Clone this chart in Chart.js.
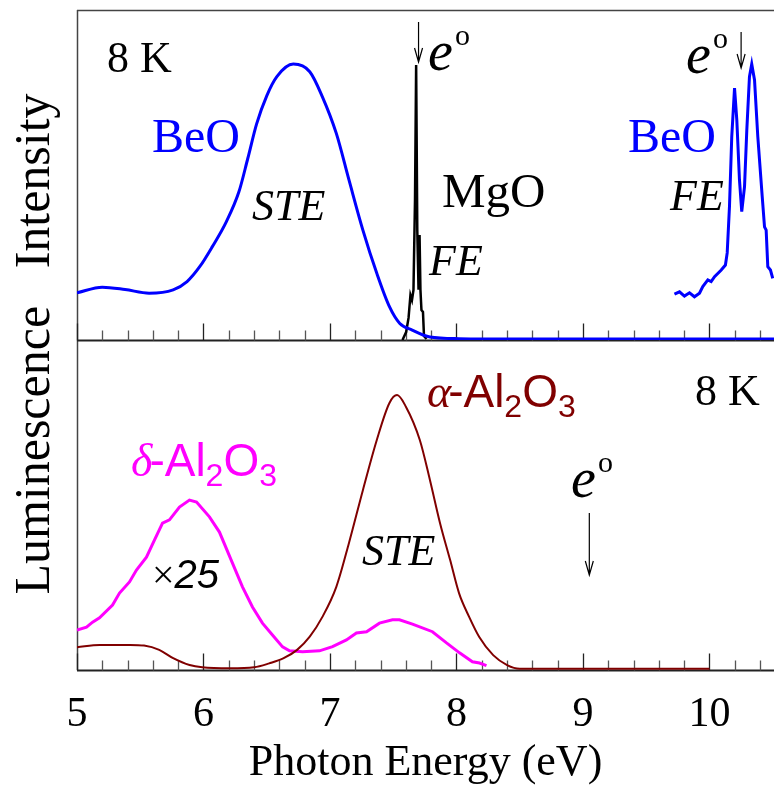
<!DOCTYPE html>
<html>
<head>
<meta charset="utf-8">
<script src="https://cdn.jsdelivr.net/npm/chart.js@4.4.1/dist/chart.umd.min.js"></script>
<style>
  html, body { margin: 0; padding: 0; background: #fff; }
  #wrap { width: 774px; height: 790px; }
</style>
</head>
<body>
<div id="wrap"><canvas id="spectra" width="774" height="790"></canvas></div>
<script>
// ── Data ─────────────────────────────────────────────────────────────────────
// photon energy (eV) / luminescence intensity (arb. units, 0..100 per panel)

// upper panel: BeO self-trapped exciton band
const BEO_STE_E = [5.00, 5.20, 5.38, 5.57, 5.76, 5.87, 5.97, 6.07, 6.18, 6.28, 6.35, 6.42,
                   6.50, 6.58, 6.71, 6.84, 6.94, 7.05, 7.15, 7.26, 7.37, 7.47, 7.55, 7.65,
                   7.79, 8.02, 8.50, 9.00, 9.50, 10.00, 10.51];
const BEO_STE_I = [14.3, 16.0, 15.3, 14.2, 15.2, 17.7, 22.2, 28.3, 35.8, 44.9, 55.0, 65.5,
                   74.0, 79.8, 83.6, 81.3, 73.7, 62.6, 48.5, 33.3, 20.2, 10.1, 5.1, 3.0,
                   0.9, 0.4, 0.3, 0.3, 0.3, 0.3, 0.3];

// upper panel: MgO free exciton lines
const MGO_E = [7.573, 7.602, 7.621, 7.636, 7.648, 7.660, 7.672, 7.681, 7.690, 7.700,
               7.708, 7.715, 7.723, 7.735, 7.743, 7.763];
const MGO_I = [0.0, 2.4, 6.7, 13.6, 12.1, 15.2, 42.4, 83.3, 33.3, 15.2,
               31.8, 15.2, 9.1, 8.5, 1.2, 0.3];

// upper panel: BeO free exciton doublet
const BEO_FE_E = [9.723, 9.763, 9.802, 9.842, 9.881, 9.921, 9.947, 9.987, 10.013, 10.040,
                  10.093, 10.126, 10.140, 10.158, 10.176, 10.198, 10.216, 10.237, 10.255,
                  10.277, 10.295, 10.316, 10.334, 10.356, 10.382, 10.417, 10.435, 10.448,
                  10.461, 10.482, 10.500];
const BEO_FE_I = [13.9, 14.6, 13.3, 14.3, 13.1, 14.2, 16.2, 18.2, 17.7, 19.2,
                  21.2, 22.7, 26.4, 40.4, 61.6, 76.3, 66.7, 48.5, 38.9,
                  46.5, 63.6, 79.8, 83.6, 78.8, 61.6, 43.4, 34.3, 33.3,
                  22.2, 21.2, 18.7];

// lower panel: alpha-Al2O3
const AL_ALPHA_E = [5.00, 5.18, 5.42, 5.53, 5.65, 5.76, 5.89, 5.99, 6.21, 6.40, 6.52, 6.63,
                    6.74, 6.84, 6.94, 7.05, 7.15, 7.26, 7.37, 7.47, 7.53, 7.60, 7.71, 7.79,
                    7.87, 7.95, 8.02, 8.10, 8.18, 8.29, 8.40, 8.50, 9.00, 9.50, 10.00];
const AL_ALPHA_I = [6.9, 7.6, 7.6, 7.4, 6.1, 3.6, 1.5, 0.8, 0.5, 0.8, 2.0, 3.5,
                    6.1, 10.1, 16.1, 25.2, 38.5, 54.5, 69.7, 80.9, 83.3, 79.8, 69.7, 57.6,
                    44.5, 33.3, 23.3, 16.1, 10.0, 4.5, 1.5, 0.4, 0.4, 0.4, 0.4];

// lower panel: delta-Al2O3 (scaled x25)
const AL_DELTA_E = [5.000, 5.075, 5.123, 5.178, 5.281, 5.336, 5.415, 5.470, 5.549, 5.613,
                    5.676, 5.731, 5.810, 5.889, 5.945, 6.047, 6.126, 6.229, 6.308, 6.387,
                    6.466, 6.545, 6.625, 6.680, 6.783, 6.917, 7.020, 7.130, 7.209, 7.289,
                    7.391, 7.494, 7.549, 7.652, 7.810, 7.921, 8.024, 8.126, 8.182, 8.237];
const AL_DELTA_I = [12.1, 13.0, 14.5, 15.8, 19.7, 23.3, 26.7, 30.3, 34.2, 39.4,
                    44.5, 45.5, 49.4, 51.5, 50.9, 46.4, 41.8, 32.4, 25.2, 19.1,
                    14.2, 10.6, 7.0, 5.8, 5.5, 5.8, 7.1, 9.1, 11.2, 11.6,
                    14.2, 15.2, 15.2, 13.9, 11.6, 8.2, 5.2, 2.5, 2.1, 1.3];

// axis ticks
const X_TICKS = [5, 6, 7, 8, 9, 10];
const X_MINOR = [5.2, 5.4, 5.6, 5.8, 6.2, 6.4, 6.6, 6.8, 7.2, 7.4, 7.6, 7.8,
                 8.2, 8.4, 8.6, 8.8, 9.2, 9.4, 9.6, 9.8, 10.2, 10.4];

// free-exciton markers (eV)
const EO_TOP = [7.70, 10.25];
const EO_BOTTOM = 9.05;

// ── Helpers ──────────────────────────────────────────────────────────────────
const SERIF = '"Liberation Serif", "Times New Roman", serif';
const SANS  = '"Liberation Sans", Arial, sans-serif';

const pts = (xs, ys) => xs.map((x, i) => ({ x, y: ys[i] }));

function line(label, xs, ys, color, width, axis, smooth) {
  return {
    label,
    data: pts(xs, ys),
    yAxisID: axis,
    borderColor: color,
    borderWidth: width,
    pointRadius: 0,
    fill: false,
    tension: smooth ? 0.4 : 0,
    cubicInterpolationMode: smooth ? 'monotone' : 'default',
  };
}

// text made of several runs (font / vertical shift per run)
function drawRuns(ctx, x, y, runs, color) {
  ctx.fillStyle = color;
  ctx.textAlign = 'left';
  ctx.textBaseline = 'alphabetic';
  for (const r of runs) {
    ctx.font = r.font;
    ctx.fillText(r.text, x, y + (r.dy || 0));
    x += ctx.measureText(r.text).width + (r.dx || 0);
  }
}

function drawText(ctx, text, x, y, font, color) {
  drawRuns(ctx, x, y, [{ text, font }], color);
}

function downArrow(ctx, px, y0, y1) {
  ctx.save();
  ctx.strokeStyle = '#000';
  ctx.lineWidth = 1.2;
  ctx.beginPath();
  ctx.moveTo(px, y0);
  ctx.lineTo(px, y1);
  ctx.moveTo(px - 4, y1 - 14);
  ctx.lineTo(px, y1);
  ctx.lineTo(px + 4, y1 - 14);
  ctx.stroke();
  ctx.restore();
}

function eo(ctx, x, y) {
  drawText(ctx, 'e', x, y, `italic 56px ${SERIF}`, '#000');
  drawText(ctx, 'o', x + 27, y - 25, `30px ${SERIF}`, '#000');
}

function alumina(ctx, x, y, greek, color) {
  drawRuns(ctx, x, y, [
    { text: greek, font: `italic 46px ${SERIF}`, dx: -3 },
    { text: '-Al', font: `46px ${SANS}` },
    { text: '2', font: `32px ${SANS}`, dy: 10 },
    { text: 'O', font: `46px ${SANS}` },
    { text: '3', font: `32px ${SANS}`, dy: 10 },
  ], color);
}

// ── Frame, inward ticks and labels ───────────────────────────────────────────
const panelDecor = {
  id: 'panelDecor',
  beforeDatasetsDraw(chart) {
    const { ctx, chartArea: a, scales: { x, yTop, yBot } } = chart;
    ctx.save();
    ctx.lineCap = 'butt';

    // outer border (top + left)
    ctx.strokeStyle = '#444';
    ctx.lineWidth = 1.5;
    ctx.beginPath();
    ctx.moveTo(a.left, a.top + 0.5);
    ctx.lineTo(a.right, a.top + 0.5);
    ctx.moveTo(a.left + 0.5, a.top);
    ctx.lineTo(a.left + 0.5, a.bottom);
    ctx.stroke();

    for (const s of [yTop, yBot]) {
      const yb = Math.round(s.getPixelForValue(0)) + 0.5;
      ctx.strokeStyle = '#222';
      ctx.lineWidth = 2;
      ctx.beginPath();
      ctx.moveTo(a.left, yb);
      ctx.lineTo(a.right, yb);
      ctx.stroke();

      ctx.lineWidth = 1.3;
      ctx.strokeStyle = '#222';
      ctx.beginPath();
      for (const v of X_TICKS) {
        const px = Math.round(x.getPixelForValue(v)) + 0.5;
        ctx.moveTo(px, yb);
        ctx.lineTo(px, yb - 17);
      }
      ctx.stroke();
      ctx.strokeStyle = '#555';
      ctx.beginPath();
      for (const v of X_MINOR) {
        const px = Math.round(x.getPixelForValue(v)) + 0.5;
        ctx.moveTo(px, yb);
        ctx.lineTo(px, yb - 10);
      }
      ctx.stroke();
    }
    ctx.restore();
  },
  afterDatasetsDraw(chart) {
    const { ctx, scales: { x } } = chart;
    ctx.save();

    // y axis title
    ctx.save();
    ctx.translate(49, 344);
    ctx.rotate(-Math.PI / 2);
    ctx.font = `50px ${SERIF}`;
    ctx.fillStyle = '#000';
    ctx.textAlign = 'center';
    ctx.textBaseline = 'alphabetic';
    ctx.fillText('Luminescence   Intensity', 0, 0);
    ctx.restore();

    // upper panel
    drawText(ctx, '8 K', 107, 72, `44px ${SERIF}`, '#000');
    drawText(ctx, 'BeO', 152, 152, `48px ${SERIF}`, '#0000ff');
    drawText(ctx, 'STE', 252, 220, `italic 44px ${SERIF}`, '#000');
    drawText(ctx, 'MgO', 442, 207, `49px ${SERIF}`, '#000');
    drawText(ctx, 'FE', 429, 275, `italic 44px ${SERIF}`, '#000');
    drawText(ctx, 'BeO', 628, 152, `48px ${SERIF}`, '#0000ff');
    drawText(ctx, 'FE', 670, 210, `italic 44px ${SERIF}`, '#000');
    eo(ctx, 428, 70);
    eo(ctx, 686, 73);
    downArrow(ctx, x.getPixelForValue(EO_TOP[0]), 22, 62);
    downArrow(ctx, x.getPixelForValue(EO_TOP[1]), 32, 68);

    // lower panel
    alumina(ctx, 131, 476, 'δ', '#ff00ff');
    alumina(ctx, 427, 407, 'α', '#800000');
    drawText(ctx, '8 K', 695, 405, `44px ${SERIF}`, '#000');
    drawRuns(ctx, 152, 588, [
      { text: '×', font: `40px ${SERIF}` },
      { text: '25', font: `italic 40px ${SANS}` },
    ], '#000');
    drawText(ctx, 'STE', 362, 565, `italic 44px ${SERIF}`, '#000');
    eo(ctx, 571, 497);
    downArrow(ctx, x.getPixelForValue(EO_BOTTOM), 513, 575);

    ctx.restore();
  },
};

// ── Chart ────────────────────────────────────────────────────────────────────
const hiddenY = (stackWeight) => ({
  type: 'linear',
  position: 'left',
  stack: 'panels',
  stackWeight,
  min: 0,
  max: 100,
  ticks: { display: false },
  grid: { display: false, drawTicks: false },
  border: { display: false },
});

new Chart(document.getElementById('spectra'), {
  type: 'line',
  data: {
    datasets: [
      line('BeO STE', BEO_STE_E, BEO_STE_I, '#0000ff', 3, 'yTop', true),
      line('MgO', MGO_E, MGO_I, '#000000', 2.5, 'yTop', false),
      line('BeO FE', BEO_FE_E, BEO_FE_I, '#0000ff', 3, 'yTop', false),
      line('α-Al2O3', AL_ALPHA_E, AL_ALPHA_I, '#800000', 2, 'yBot', true),
      line('δ-Al2O3', AL_DELTA_E, AL_DELTA_I, '#ff00ff', 3, 'yBot', false),
    ],
  },
  options: {
    responsive: false,
    animation: false,
    devicePixelRatio: 1,
    layout: { padding: { left: 77, right: 0, top: 10, bottom: 0 } },
    plugins: {
      legend: { display: false },
      tooltip: { enabled: false },
    },
    scales: {
      x: {
        type: 'linear',
        position: 'bottom',
        min: 5,
        max: 10.51,
        afterBuildTicks: (s) => { s.ticks = X_TICKS.map((v) => ({ value: v })); },
        afterFit: (s) => { s.height = 120; },
        grid: { display: false, drawTicks: false },
        border: { display: false },
        ticks: {
          autoSkip: false,
          maxRotation: 0,
          padding: 20,
          color: '#000',
          font: { family: SERIF, size: 42, lineHeight: 1.2 },
        },
        title: {
          display: true,
          text: 'Photon Energy (eV)',
          color: '#000',
          padding: { top: 0, bottom: 0 },
          font: { family: SERIF, size: 44, lineHeight: 1.2 },
        },
      },
      // stacked left axes: listed bottom panel first
      yBot: hiddenY(1),
      yTop: hiddenY(1),
    },
  },
  plugins: [panelDecor],
});
</script>
</body>
</html>
